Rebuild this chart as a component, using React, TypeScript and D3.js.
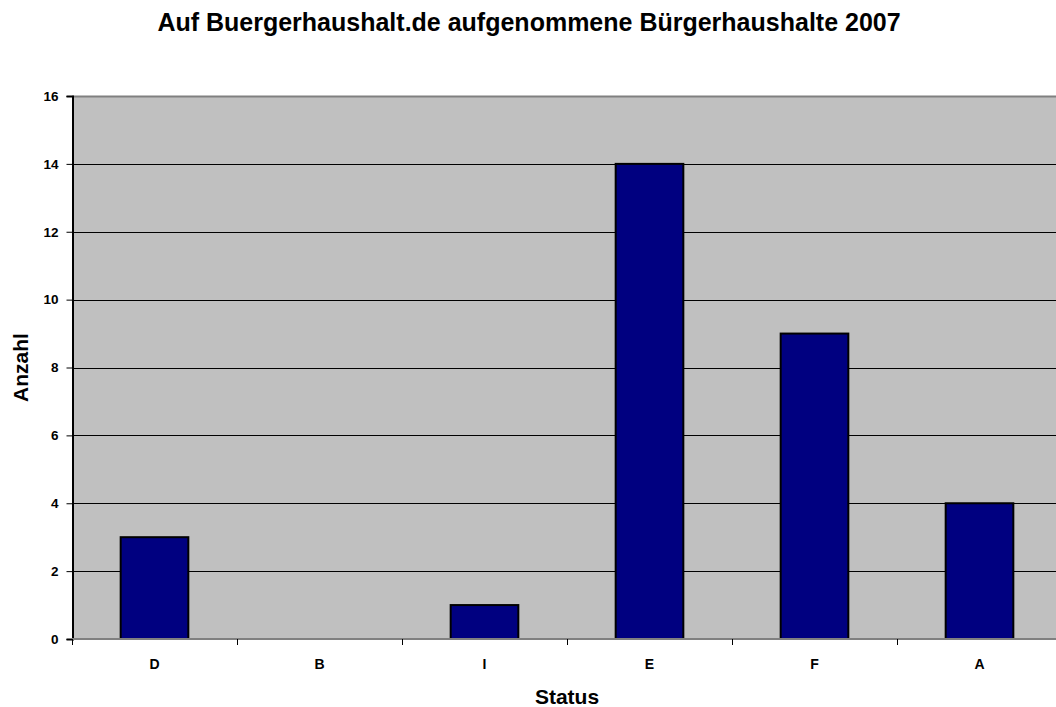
import * as d3 from 'd3';
import { useEffect, useRef } from 'react';

const categories = ['D', 'B', 'I', 'E', 'F', 'A'];
const values = [3, 0, 1, 14, 9, 4];
const yTicks = [0, 2, 4, 6, 8, 10, 12, 14, 16];
const title = 'Auf Buergerhaushalt.de aufgenommene Bürgerhaushalte 2007';

export default function App() {
    const ref = useRef<SVGSVGElement | null>(null);

    useEffect(() => {
        const svg = d3.select(ref.current);
        svg.selectAll('*').remove();

        const width = 1056;
        const height = 707;
        // plot area runs past the right edge of the picture
        const margin = { top: 96, right: -6, bottom: 68, left: 72 };
        const font = "'Liberation Sans', Arial, sans-serif";

        svg.attr('width', width).attr('height', height).style('font-family', font);

        const x = d3.scaleBand()
            .domain(categories)
            .range([margin.left, width - margin.right])
            .paddingInner(0)
            .paddingOuter(0);

        const y = d3.scaleLinear()
            .domain([0, 16])
            .range([height - margin.bottom, margin.top]);

        // plot background
        svg.append('rect')
            .attr('x', margin.left)
            .attr('y', margin.top)
            .attr('width', width - margin.left - margin.right)
            .attr('height', y(0) - margin.top)
            .attr('fill', '#c0c0c0');

        // gridlines
        svg.append('g')
            .selectAll('line')
            .data(yTicks.filter(t => t > 0 && t < 16))
            .join('line')
            .attr('x1', margin.left)
            .attr('x2', width - margin.right)
            .attr('y1', d => Math.round(y(d)) + 0.5)
            .attr('y2', d => Math.round(y(d)) + 0.5)
            .attr('stroke', '#000')
            .attr('stroke-width', 1);

        svg.append('line')
            .attr('x1', margin.left)
            .attr('x2', width)
            .attr('y1', y(16) + 0.5)
            .attr('y2', y(16) + 0.5)
            .attr('stroke', '#808080')
            .attr('stroke-width', 2);

        // bars
        const bw = x.bandwidth() * 0.41;
        svg.append('g')
            .selectAll('rect')
            .data(values.map((v, i) => ({ c: categories[i], v })))
            .join('rect')
            .attr('x', d => x(d.c)! + (x.bandwidth() - bw) / 2)
            .attr('y', d => y(d.v))
            .attr('width', bw)
            .attr('height', d => y(0) - y(d.v))
            .attr('fill', '#000080')
            .attr('stroke', '#000')
            .attr('stroke-width', d => (d.v > 0 ? 2 : 0));

        // y axis
        const yAxis = svg.append('g')
            .attr('transform', `translate(${margin.left + 0.5},0)`)
            .call(d3.axisLeft(y).tickValues(yTicks).tickSize(6).tickPadding(8).tickFormat(d3.format('d')));
        yAxis.select('.domain').attr('stroke', '#000').attr('stroke-width', 2);
        yAxis.selectAll('text')
            .attr('font-size', 13.5)
            .attr('font-weight', 'bold')
            .attr('font-family', font)
            .attr('fill', '#000');

        // x axis
        const xAxis = svg.append('g')
            .attr('transform', `translate(0,${y(0)})`);
        xAxis.append('line')
            .attr('x1', margin.left)
            .attr('x2', width)
            .attr('stroke', '#808080')
            .attr('stroke-width', 2);
        xAxis.selectAll('line.tick')
            .data(categories)
            .join('line')
            .attr('class', 'tick')
            .attr('x1', d => Math.round(x(d)!) + 0.5)
            .attr('x2', d => Math.round(x(d)!) + 0.5)
            .attr('y1', 0)
            .attr('y2', 6)
            .attr('stroke', '#000');
        xAxis.selectAll('text')
            .data(categories)
            .join('text')
            .attr('x', d => x(d)! + x.bandwidth() / 2)
            .attr('y', 30)
            .attr('text-anchor', 'middle')
            .attr('font-size', 14)
            .attr('font-weight', 'bold')
            .text(d => d);

        // title
        svg.append('text')
            .attr('x', 529)
            .attr('y', 31)
            .attr('text-anchor', 'middle')
            .attr('font-size', 25)
            .attr('font-weight', 'bold')
            .text(title);

        // axis titles
        svg.append('text')
            .attr('x', 567)
            .attr('y', 704)
            .attr('text-anchor', 'middle')
            .attr('font-size', 21)
            .attr('font-weight', 'bold')
            .text('Status');

        svg.append('text')
            .attr('transform', `translate(28,${(margin.top + y(0)) / 2}) rotate(-90)`)
            .attr('text-anchor', 'middle')
            .attr('font-size', 21)
            .attr('font-weight', 'bold')
            .text('Anzahl');
    }, []);

    return <svg ref={ref} style={{ position: 'absolute', left: 0, top: 0 }}></svg>;
}
